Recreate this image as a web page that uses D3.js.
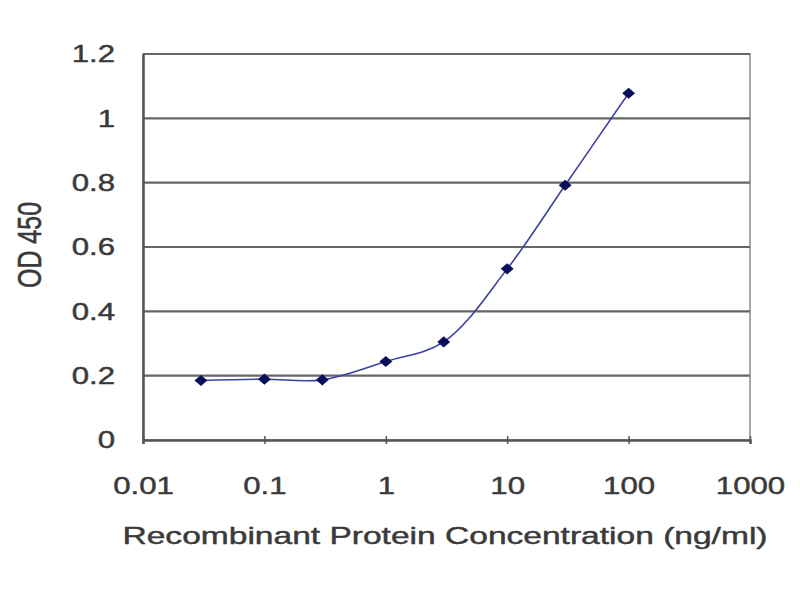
<!DOCTYPE html>
<html>
<head>
<meta charset="utf-8">
<script src="https://cdn.jsdelivr.net/npm/d3@7"></script>
<style>
  body { margin: 0; background: #fff; }
  text { font-family: "Liberation Sans", Arial, sans-serif; fill: #3a3a3a; stroke: #3a3a3a; stroke-width: 0.45px; }
</style>
</head>
<body>
<div id="chart-area"></div>
<script>
// concentrations (ng/ml) and OD 450 readings
var concentrations = [0.03, 0.1, 0.3, 1, 3, 10, 30, 100];
var odValues = [0.185, 0.189, 0.187, 0.244, 0.305, 0.532, 0.792, 1.078];
var xTicks = [0.01, 0.1, 1, 10, 100, 1000];
var xTickLabels = ['0.01', '0.1', '1', '10', '100', '1000'];
var yTicks = [0, 0.2, 0.4, 0.6, 0.8, 1, 1.2];
var yTickLabels = ['0', '0.2', '0.4', '0.6', '0.8', '1', '1.2'];

var margin = { left: 143, right: 50, top: 54, bottom: 160 };
var width = 800 - margin.left - margin.right,
    height = 600 - margin.top - margin.bottom;

// the picture's text is drawn a bit wider than normal
var stretch = 1.3;

var svg = d3.select('#chart-area')
    .append('svg')
    .attr('width', 800)
    .attr('height', 600);

var g = svg.append('g')
    .attr('transform', 'translate(' + margin.left + ', ' + margin.top + ')');

var xScale = d3.scaleLog()
    .domain([0.01, 1000])
    .range([0, width]);

var yScale = d3.scaleLinear()
    .domain([0, 1.2])
    .range([height, 0]);

// plot frame
g.append('rect')
    .attr('width', width)
    .attr('height', height)
    .attr('fill', '#fff')
    .attr('stroke', '#8a8a8a')
    .attr('stroke-width', 1.5);

// horizontal gridlines
g.selectAll('.grid')
    .data(yTicks.slice(1))
    .enter()
    .append('line')
    .attr('x1', 0)
    .attr('x2', width)
    .attr('y1', function(d) { return yScale(d); })
    .attr('y2', function(d) { return yScale(d); })
    .attr('stroke', '#666')
    .attr('stroke-width', 2.2);

// y axis
var yAxisCall = d3.axisLeft(yScale)
    .tickValues(yTicks)
    .tickFormat(function(d, i) { return yTickLabels[i]; })
    .tickSize(0)
    .tickPadding(21.5);

var yAxis = g.append('g').call(yAxisCall);
yAxis.select('.domain')
    .attr('stroke', '#555')
    .attr('stroke-width', 2.5);
yAxis.selectAll('text')
    .attr('font-size', '24px')
    .attr('font-family', '"Liberation Sans", Arial, sans-serif')
    .attr('fill', '#3a3a3a')
    .attr('transform', 'scale(' + stretch + ',1)');

// x axis
var xAxisCall = d3.axisBottom(xScale)
    .tickValues(xTicks)
    .tickFormat(function(d, i) { return xTickLabels[i]; })
    .tickSize(4)
    .tickPadding(33);

var xAxis = g.append('g')
    .attr('transform', 'translate(0, ' + height + ')')
    .call(xAxisCall);
xAxis.select('.domain')
    .attr('stroke', '#555')
    .attr('stroke-width', 2.5);
xAxis.selectAll('.tick line')
    .attr('y1', -4)
    .attr('stroke', '#555')
    .attr('stroke-width', 1.5);
xAxis.selectAll('text')
    .attr('font-size', '24px')
    .attr('font-family', '"Liberation Sans", Arial, sans-serif')
    .attr('fill', '#3a3a3a')
    .attr('transform', 'scale(' + stretch + ',1)');

// axis titles
g.append('text')
    .text('Recombinant Protein Concentration (ng/ml)')
    .attr('x', 302)
    .attr('y', height + 104)
    .attr('text-anchor', 'middle')
    .attr('font-size', '24.5px')
    .attr('textLength', 645)
    .attr('lengthAdjust', 'spacingAndGlyphs');

svg.append('text')
    .text('OD 450')
    .attr('text-anchor', 'middle')
    .attr('font-size', '25px')
    .attr('transform', 'translate(41, 245) rotate(-90) scale(1,' + stretch + ')');

var data = concentrations.map(function(c, i) {
    return { x: c, y: odValues[i] };
});

// smoothed curve
var line = d3.line()
    .x(function(d) { return xScale(d.x); })
    .y(function(d) { return yScale(d.y); })
    .curve(d3.curveCatmullRom.alpha(0.5));

g.append('path')
    .datum(data)
    .attr('d', line)
    .attr('fill', 'none')
    .attr('stroke', '#3c42a0')
    .attr('stroke-width', 1.6);

// diamond markers
g.selectAll('.pt')
    .data(data)
    .enter()
    .append('path')
    .attr('d', d3.symbol().type(d3.symbolDiamond2).size(80))
    .attr('transform', function(d) {
        return 'translate(' + xScale(d.x) + ',' + yScale(d.y) + ') scale(1.15,1)';
    })
    .attr('fill', '#0a0f5a');
</script>
</body>
</html>
